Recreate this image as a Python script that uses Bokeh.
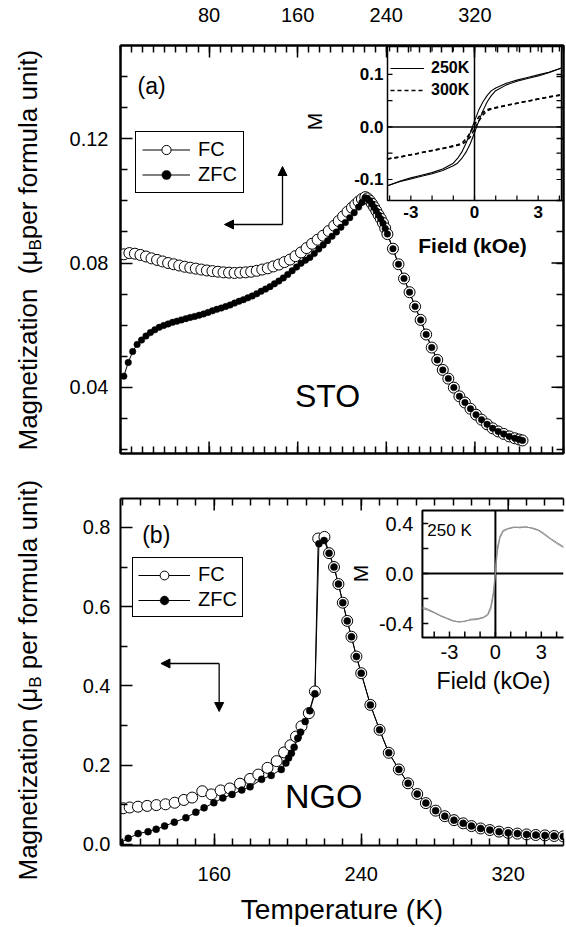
import math
from bokeh.plotting import figure
from bokeh.models import (Range1d, LinearAxis, FixedTicker, Legend, LegendItem,
                          Label, Arrow, NormalHead, PrintfTickFormatter)
from bokeh.layouts import column, row
from bokeh.embed import file_html
from bokeh.resources import INLINE
from bokeh.core.properties import value

FONT = "Liberation Sans"

# ---------------- panel (a): STO ----------------
sto_zfc_T = [3, 7, 11, 15, 19, 23, 27, 31, 35, 39, 43, 47, 51, 55, 59, 63, 67, 71, 75, 79,
             83, 87, 91, 95, 99, 103, 107, 111, 115, 119, 123, 127, 131, 135, 139, 143, 147,
             151, 155, 159, 163, 167, 171, 175, 179, 183, 187, 191, 195, 199, 203, 207, 211,
             215, 218, 221, 223, 225, 227, 229, 231, 233, 235, 237, 239, 241,
             246, 251, 256, 261, 266, 271, 276, 281, 286, 291, 296, 301, 306, 311, 316, 321,
             326, 331, 336, 341, 346, 351, 356, 360, 363]
sto_zfc_M = [0.0436, 0.0480, 0.0515, 0.0538, 0.0552, 0.0565, 0.0576, 0.0585, 0.0593, 0.0599,
             0.0604, 0.0609, 0.0613, 0.0617, 0.0621, 0.0625, 0.0628, 0.0632, 0.0636, 0.0641,
             0.0646, 0.0651, 0.0655, 0.0660, 0.0665, 0.0671, 0.0677, 0.0682, 0.0688, 0.0694,
             0.0701, 0.0709, 0.0716, 0.0724, 0.0733, 0.0742, 0.0752, 0.0763, 0.0775, 0.0787,
             0.0799, 0.0809, 0.0818, 0.0831, 0.0845, 0.0858, 0.0872, 0.0886, 0.0900, 0.0915,
             0.0930, 0.0946, 0.0962, 0.0980, 0.0995, 0.1010, 0.1007, 0.1000, 0.0990, 0.0979,
             0.0967, 0.0954, 0.0942, 0.0928, 0.0911, 0.0893,
             0.0846, 0.0796, 0.0750, 0.0706, 0.0660, 0.0617, 0.0570, 0.0528, 0.0488, 0.0456,
             0.0428, 0.0399, 0.0371, 0.0351, 0.0331, 0.0312, 0.0296, 0.0281, 0.0268, 0.0258,
             0.0250, 0.0242, 0.0236, 0.0232, 0.0229]
sto_fc_T = [3, 8, 13, 18, 23, 28, 33, 38, 43, 48, 53, 58, 63, 68, 73, 78, 83, 88, 93, 98, 103,
            108, 113, 118, 123, 128, 133, 138, 143, 148, 153, 158, 163, 168, 173, 178, 183, 188,
            193, 197, 201, 205, 209, 212, 215, 218, 221, 223, 225, 227, 229, 231, 233, 235, 237,
            239, 241, 246, 251, 256, 261, 266, 271, 276, 281, 286, 291, 296, 301, 306, 311, 316,
            321, 326, 331, 336, 341, 346, 351, 356, 360, 363]
sto_fc_M = [0.0828, 0.0832, 0.0830, 0.0826, 0.0821, 0.0815, 0.0810, 0.0805, 0.0800, 0.0796,
            0.0792, 0.0788, 0.0785, 0.0782, 0.0779, 0.0776, 0.0774, 0.0772, 0.0770, 0.0769,
            0.0768, 0.0769, 0.0770, 0.0772, 0.0775, 0.0779, 0.0783, 0.0789, 0.0795, 0.0803,
            0.0811, 0.0822, 0.0834, 0.0848, 0.0862, 0.0875, 0.0888, 0.0903, 0.0920, 0.0935,
            0.0950, 0.0965, 0.0978, 0.0988, 0.0998, 0.1006, 0.1012, 0.1008, 0.1001, 0.0991,
            0.0980, 0.0968, 0.0955, 0.0943, 0.0929, 0.0912, 0.0893,
            0.0846, 0.0796, 0.0750, 0.0706, 0.0660, 0.0617, 0.0570, 0.0528, 0.0488, 0.0456,
            0.0428, 0.0399, 0.0371, 0.0351, 0.0331, 0.0312, 0.0296, 0.0281, 0.0268, 0.0258,
            0.0250, 0.0242, 0.0236, 0.0232, 0.0229]

# inset (a): M-H loops
fa_field = [-4.1, -3.5, -3.0, -2.5, -2.0, -1.5, -1.0, -0.8, -0.6, -0.4, -0.2, 0.0,
            0.2, 0.4, 0.6, 0.8, 1.0, 1.5, 2.0, 2.5, 3.0, 3.5, 4.1]
m250_up = [-0.112, -0.104, -0.099, -0.094, -0.089, -0.083, -0.074, -0.069, -0.060, -0.048,
           -0.032, -0.011, 0.011, 0.031, 0.048, 0.060, 0.069, 0.080, 0.087, 0.092, 0.097,
           0.103, 0.112]
m250_down = [-0.112, -0.103, -0.097, -0.092, -0.087, -0.080, -0.069, -0.060, -0.048, -0.031,
             -0.011, 0.011, 0.032, 0.048, 0.060, 0.069, 0.074, 0.083, 0.089, 0.094, 0.099,
             0.104, 0.112]
m300_up = [-0.061, -0.057, -0.053, -0.049, -0.045, -0.041, -0.037, -0.035, -0.033, -0.028,
           -0.019, -0.004, 0.011, 0.023, 0.031, 0.034, 0.036, 0.041, 0.045, 0.049, 0.053,
           0.057, 0.061]
m300_down = [-0.061, -0.057, -0.053, -0.049, -0.045, -0.041, -0.036, -0.034, -0.031, -0.023,
             -0.011, 0.004, 0.019, 0.028, 0.033, 0.035, 0.037, 0.041, 0.045, 0.049, 0.053,
             0.057, 0.061]

# ---------------- panel (b): NGO ----------------
ngo_fc_T = [110.5, 114, 118.5, 123.5, 128.5, 133.5, 138.5, 143.5, 148, 153.5, 158.5, 163.5,
            168.5, 174, 179.5, 184, 189, 194, 198, 201.5, 204.5, 207.5, 211.5, 214.8, 216.6,
            220, 222.5, 225.2, 227.6, 230, 232.4, 234.7, 237.4, 240, 245, 250, 255, 260.5,
            265.5, 270.5, 275.2, 280.5, 285.5, 290.5, 295.5, 300, 305, 310, 315, 320, 325,
            330, 335, 340, 345, 350]
ngo_fc_M = [0.091, 0.093, 0.095, 0.097, 0.099, 0.101, 0.105, 0.112, 0.118, 0.134, 0.126, 0.136,
            0.141, 0.153, 0.165, 0.176, 0.193, 0.210, 0.232, 0.250, 0.272, 0.298, 0.331, 0.386,
            0.772, 0.776, 0.735, 0.700, 0.657, 0.610, 0.564, 0.524, 0.474, 0.432, 0.352, 0.289,
            0.231, 0.189, 0.154, 0.127, 0.104, 0.085, 0.071, 0.061, 0.053, 0.046, 0.040, 0.036,
            0.032, 0.029, 0.027, 0.025, 0.0235, 0.0225, 0.021, 0.020]
ngo_zfc_T = [108.8, 113.2, 118.6, 124, 128.4, 133, 138.3, 144.6, 150, 154.5, 159.8, 164.7,
             169.7, 175, 179.5, 185.8, 191, 196.5, 199, 200.5, 202, 203.5, 205.5, 207, 209.5,
             212, 214.8, 217, 219.8, 222.5, 225.2, 227.6, 230, 232.4, 234.7, 237.4, 240, 245,
             250, 255, 260.5, 265.5, 270.5, 275.2, 280.5, 285.5, 290.5, 295.5, 300, 305, 310,
             315, 320, 325, 330, 335, 340, 345, 350]
ngo_zfc_M = [0.004, 0.015, 0.027, 0.032, 0.038, 0.046, 0.056, 0.067, 0.081, 0.092, 0.105, 0.117,
             0.126, 0.137, 0.145, 0.164, 0.174, 0.189, 0.205, 0.218, 0.230, 0.245, 0.268, 0.283,
             0.310, 0.337, 0.380, 0.759, 0.767, 0.735, 0.700, 0.657, 0.610, 0.564, 0.524, 0.474,
             0.432, 0.352, 0.289, 0.231, 0.189, 0.154, 0.127, 0.104, 0.085, 0.071, 0.061, 0.053,
             0.046, 0.040, 0.036, 0.032, 0.029, 0.027, 0.025, 0.0235, 0.0225, 0.021, 0.020]

# inset (b): 250 K loop (two branches)
fb_field = [-4.77, -4.4, -4.0, -3.6, -3.2, -2.8, -2.4, -2.0, -1.6, -1.2, -0.8, -0.5, -0.3,
            -0.15, -0.05, 0.05, 0.15, 0.3, 0.5, 0.8, 1.2, 1.6, 2.0, 2.4, 2.8, 3.2, 3.6, 4.0, 4.5]
mb_up = [-0.270, -0.285, -0.310, -0.335, -0.355, -0.375, -0.390, -0.380, -0.372, -0.368,
         -0.355, -0.335, -0.285, -0.190, -0.080, 0.080, 0.190, 0.285, 0.335, 0.355, 0.368,
         0.372, 0.370, 0.365, 0.350, 0.320, 0.280, 0.250, 0.210]
mb_down = [-0.280, -0.295, -0.315, -0.340, -0.360, -0.380, -0.385, -0.385, -0.365, -0.362,
           -0.350, -0.325, -0.260, -0.160, -0.050, 0.110, 0.220, 0.300, 0.345, 0.360, 0.372,
           0.365, 0.375, 0.360, 0.345, 0.310, 0.275, 0.240, 0.205]

# ticks
a_top_major = [80, 160, 240, 320]
a_minor_T = list(range(0, 401, 10))
a_y_major = [0.04, 0.08, 0.12]
a_y_minor = [0.02, 0.03, 0.05, 0.06, 0.07, 0.09, 0.10, 0.11, 0.13, 0.14]
b_x_major = [160, 240, 320]
b_minor_T = list(range(110, 351, 10))
b_y_major = [0.0, 0.2, 0.4, 0.6, 0.8]
b_y_minor = [0.1, 0.3, 0.5, 0.7]
ia_xticks = [-4, -3, -2, -1, 0, 1, 2, 3, 4]
ia_xlabels = [-3, 0, 3]
ia_yticks = [-0.1, -0.05, 0.0, 0.05, 0.1]
ia_ylabels = [0.1, 0.0, -0.1]
ib_xticks = [-4, -3, -2, -1, 0, 1, 2, 3, 4]
ib_xlabels = [-3, 0, 3]
ib_yticks = [-0.4, -0.2, 0.0, 0.2, 0.4]
ib_ylabels = [0.4, 0.0, -0.4]

# ---------------- layout (page pixels; page origin = canvas origin) ----------------
PAGE_W, PAGE_H = 566, 927
LW = 45                       # width of the y-title strip
W = PAGE_W - LW
HA = 470
HB = PAGE_H - HA
TOP_A, TOP_B = 0, HA
A_FR = (120, 563, 45, 453)          # left, right, top, bottom
B_FR = (117, 566, 498, 845)
A_X, A_Y = (0, 400), (0.0187, 0.150)
B_X, B_Y = (109, 350.1), (-0.003, 0.873)
IA_F, IA_M = (-4.1, 4.1), (-0.14, 0.153)
IA_BOX = (387, 561, 46, 200)
IB_F, IB_M = (-4.77, 4.45), (-0.512, 0.504)
IB_BOX = (423, 566, 510, 637)
MAJ, MNR = 12, 7

AW = {'M': 833, 'a': 556, 'g': 556, 'n': 556, 'e': 556, 't': 278, 'i': 222, 'z': 500,
      'o': 556, ' ': 278, '(': 333, ')': 333, 'μ': 576, 'B': 667, 'p': 556, 'r': 333,
      'f': 278, 'm': 833, 'u': 556, 'l': 222}


def tw(s, fs):
    return sum(AW.get(c, 556) for c in s) / 1000.0 * fs


def p2d(px, py, fr, xr, yr):
    L, R, T, B = fr
    return (xr[0] + (px - L) / (R - L) * (xr[1] - xr[0]),
            yr[0] + (B - py) / (B - T) * (yr[1] - yr[0]))


def make_fig(h, fr, xr, yr, top):
    L, R, T, B = fr
    p = figure(width=W, height=h, x_range=Range1d(*xr), y_range=Range1d(*yr),
               x_axis_location=None, y_axis_location=None,
               output_backend="svg", toolbar_location=None,
               min_border_left=L - LW, min_border_right=PAGE_W - R,
               min_border_top=T - top, min_border_bottom=top + h - B)
    p.grid.visible = False
    p.background_fill_color = "white"
    p.border_fill_color = "white"
    return p


def add_axis(p, side, ticks, minor, fmt, fs="20px", standoff=10):
    ax = LinearAxis(ticker=FixedTicker(ticks=ticks, minor_ticks=minor))
    if fmt:
        ax.formatter = PrintfTickFormatter(format=fmt)
    ax.axis_line_width = 2
    ax.axis_line_color = "black"
    ax.major_tick_in, ax.major_tick_out = MAJ, 0
    ax.minor_tick_in, ax.minor_tick_out = MNR, 0
    ax.major_tick_line_width = 1.5
    ax.minor_tick_line_width = 1.5
    ax.major_tick_line_color = "black"
    ax.minor_tick_line_color = "black"
    ax.major_label_text_font = FONT
    ax.major_label_text_color = "black"
    ax.major_label_text_font_size = fs
    ax.major_label_standoff = standoff
    ax.axis_label_text_color = "black"
    p.add_layout(ax, side)
    return ax


def bare_axis(p, side, minor):
    # axis with only short ticks; long ticks at labelled values are drawn separately
    ax = LinearAxis(ticker=FixedTicker(ticks=[], minor_ticks=minor))
    ax.axis_line_width = 2
    ax.axis_line_color = "black"
    ax.major_tick_in, ax.major_tick_out = 0, 0
    ax.minor_tick_in, ax.minor_tick_out = MNR, 0
    ax.minor_tick_line_width = 1.5
    ax.minor_tick_line_color = "black"
    ax.major_label_standoff = 0
    p.add_layout(ax, side)
    return ax


def long_ticks(p, fr, xr, yr, side, vals):
    L, R, T, B = fr
    ux = (xr[1] - xr[0]) / (R - L)
    uy = (yr[1] - yr[0]) / (B - T)
    n = len(vals)
    if side == "below":
        p.segment(x0=vals, y0=[yr[0]] * n, x1=vals, y1=[yr[0] + MAJ * uy] * n,
                  line_color="black", line_width=1.5)
    elif side == "above":
        p.segment(x0=vals, y0=[yr[1]] * n, x1=vals, y1=[yr[1] - MAJ * uy] * n,
                  line_color="black", line_width=1.5)
    elif side == "right":
        p.segment(x0=[xr[1]] * n, y0=vals, x1=[xr[1] - MAJ * ux] * n, y1=vals,
                  line_color="black", line_width=1.5)


def inset_ranges(p, fr, xr, yr, box):
    L, R, T, B = fr
    bl, br, bt, bb = box
    ux = (xr[1] - xr[0]) / (br - bl)
    uy = (yr[1] - yr[0]) / (bb - bt)
    p.extra_x_ranges = {"ins": Range1d(xr[0] - (bl - L) * ux, xr[1] + (R - br) * ux)}
    p.extra_y_ranges = {"ins": Range1d(yr[0] - (B - bb) * uy, yr[1] + (bt - T) * uy)}
    return ux, uy


def arrow(p, conv, start, end):
    x0, y0 = conv(*start)
    x1, y1 = conv(*end)
    p.add_layout(Arrow(end=NormalHead(size=9, fill_color="black", line_color="black", line_width=1),
                       x_start=x0, y_start=y0, x_end=x1, y_end=y1,
                       line_color="black", line_width=1.3))


def label(p, conv, px, py, text, fs, align="left", bold=False, angle=0):
    x, y = conv(px, py)
    p.add_layout(Label(x=x, y=y, text=text, text_font=FONT, text_font_size=f"{fs}px",
                       text_align=align, text_baseline="middle", angle=angle,
                       angle_units="deg", text_color="black",
                       text_font_style="bold" if bold else "normal"))


def legend(items, loc, glyph_w, glyph_h, padding, fs, bold=False, boxed=True):
    return Legend(items=items, location=loc, margin=0, padding=padding, spacing=2,
                  glyph_width=glyph_w, glyph_height=glyph_h, label_standoff=8 if boxed else 7,
                  label_text_font=FONT, label_text_font_size=fs, label_text_color="black",
                  label_text_font_style="bold" if bold else "normal",
                  border_line_color="black", border_line_width=1,
                  border_line_alpha=1 if boxed else 0,
                  background_fill_color="white", background_fill_alpha=1 if boxed else 0)


def ca(px, py):
    return p2d(px, py, A_FR, A_X, A_Y)


def cb(px, py):
    return p2d(px, py, B_FR, B_X, B_Y)


# =============== y-title strip ===============
lf = figure(width=LW, height=PAGE_H, x_range=Range1d(0, LW), y_range=Range1d(0, PAGE_H),
            x_axis_location=None, y_axis_location=None, output_backend="svg",
            toolbar_location=None, min_border_left=0, min_border_right=0,
            min_border_top=0, min_border_bottom=0)
lf.grid.visible = False
lf.outline_line_color = None

FS_T, FS_S = 26, 17


def ytitle(px, py0, parts):
    # parts: (text, is_subscript, trailing gap in spaces); drawn rotated, reading upward
    y = py0
    for s, sub, gap in parts:
        f = FS_S if sub else FS_T
        dx = 8 if sub else 0
        lf.text(x=[px + dx], y=[PAGE_H - y], text=[s], angle=math.pi / 2,
                text_font=value(FONT), text_font_size=f"{f}px",
                text_align="left", text_baseline="middle", text_color="black")
        y -= tw(s, f) + gap * tw(" ", FS_T)


ytitle(27, 450, [("Magnetization", False, 2), ("(μ", False, 0), ("B", True, 0),
                 ("per formula unit)", False, 0)])
ytitle(27, 880, [("Magnetization", False, 1), ("(μ", False, 0), ("B", True, 1),
                 ("per formula unit)", False, 0)])

# =============== figure A ===============
pa = make_fig(HA, A_FR, A_X, A_Y, TOP_A)
pa.outline_line_color = "black"
pa.outline_line_width = 2
add_axis(pa, "above", a_top_major, a_minor_T, "%d", standoff=24)
bare_axis(pa, "below", a_minor_T)
add_axis(pa, "left", a_y_major, a_y_minor, "%.2f", standoff=12)
bare_axis(pa, "right", a_y_minor + a_y_major)
long_ticks(pa, A_FR, A_X, A_Y, "below", a_top_major)
long_ticks(pa, A_FR, A_X, A_Y, "right", a_y_major)

la_z = pa.line(sto_zfc_T, sto_zfc_M, line_color="black", line_width=1)
la_f = pa.line(sto_fc_T, sto_fc_M, line_color="black", line_width=1)
sa_f = pa.scatter(sto_fc_T, sto_fc_M, marker="circle", size=11, fill_color="white",
                  line_color="black", line_width=1)
sa_z = pa.scatter(sto_zfc_T, sto_zfc_M, marker="circle", size=6.5, fill_color="black",
                  line_color="black", line_width=0.5)

pa.add_layout(legend([LegendItem(label="FC", renderers=[la_f, sa_f]),
                      LegendItem(label="ZFC", renderers=[la_z, sa_z])],
                     (15, 260), 48, 23, 6, "20px"), "center")

# inset (a)
uxa, uya = inset_ranges(pa, A_FR, IA_F, IA_M, IA_BOX)
kw = dict(x_range_name="ins", y_range_name="ins")
pa.quad(left=[IA_F[0]], right=[IA_F[1]], bottom=[IA_M[0]], top=[IA_M[1]],
        fill_color="white", line_color="black", line_width=1.5, **kw)
pa.segment(x0=[0, IA_F[0]], y0=[IA_M[0], 0], x1=[0, IA_F[1]], y1=[IA_M[1], 0],
           line_color="black", line_width=1.5, **kw)
tl = 5
pa.segment(x0=ia_xticks, y0=[IA_M[0]] * len(ia_xticks), x1=ia_xticks,
           y1=[IA_M[0] + tl * uya] * len(ia_xticks), line_color="black", line_width=1.2, **kw)
pa.segment(x0=ia_xticks, y0=[IA_M[1]] * len(ia_xticks), x1=ia_xticks,
           y1=[IA_M[1] - tl * uya] * len(ia_xticks), line_color="black", line_width=1.2, **kw)
pa.segment(x0=[IA_F[0]] * len(ia_yticks), y0=ia_yticks, x1=[IA_F[0] + tl * uxa] * len(ia_yticks),
           y1=ia_yticks, line_color="black", line_width=1.2, **kw)
pa.segment(x0=[IA_F[1]] * len(ia_yticks), y0=ia_yticks, x1=[IA_F[1] - tl * uxa] * len(ia_yticks),
           y1=ia_yticks, line_color="black", line_width=1.2, **kw)
r250 = pa.line(fa_field, m250_up, line_color="black", line_width=1.1, **kw)
pa.line(fa_field, m250_down, line_color="black", line_width=1.1, **kw)
r300 = pa.line(fa_field, m300_up, line_color="black", line_width=1.6, line_dash="4 3", **kw)
pa.line(fa_field, m300_down, line_color="black", line_width=1.6, line_dash="4 3", **kw)
pa.text(x=ia_xlabels, y=[IA_M[0]] * 3, text=[str(v) for v in ia_xlabels], y_offset=5,
        text_align="center", text_baseline="top", text_font=value(FONT),
        text_font_size="17px", text_font_style="bold", **kw)
pa.text(x=[IA_F[0]] * 3, y=ia_ylabels, text=["%.1f" % v for v in ia_ylabels], x_offset=-4,
        text_align="right", text_baseline="middle", text_font=value(FONT),
        text_font_size="17px", text_font_style="bold", **kw)
pa.add_layout(legend([LegendItem(label="250K", renderers=[r250]),
                      LegendItem(label="300K", renderers=[r300])],
                     (270, 353), 34, 20, 0, "16px", bold=True, boxed=False), "center")
label(pa, ca, 314, 121, "M", 21, align="center", angle=90)
label(pa, ca, 472, 245, "Field (kOe)", 21, align="center", bold=True)

label(pa, ca, 137, 85, "(a)", 23)
label(pa, ca, 327, 395, "STO", 32, align="center")
arrow(pa, ca, (282, 224), (282, 166))
arrow(pa, ca, (282, 224), (224, 224))

# =============== figure B ===============
pb = make_fig(HB, B_FR, B_X, B_Y, TOP_B)
pb.outline_line_color = None
bare_axis(pb, "above", b_minor_T)
long_ticks(pb, B_FR, B_X, B_Y, "above", b_x_major)
axb = add_axis(pb, "below", b_x_major, b_minor_T, "%d", standoff=21)
axb.axis_label = "Temperature (K)"
axb.axis_label_text_font = FONT
axb.axis_label_text_font_size = "28px"
axb.axis_label_text_font_style = "normal"
axb.axis_label_standoff = 10
add_axis(pb, "left", b_y_major, b_y_minor, "%.1f", standoff=10)

lb_z = pb.line(ngo_zfc_T, ngo_zfc_M, line_color="black", line_width=1)
lb_f = pb.line(ngo_fc_T, ngo_fc_M, line_color="black", line_width=1)
sb_f = pb.scatter(ngo_fc_T, ngo_fc_M, marker="circle", size=11, fill_color="white",
                  line_color="black", line_width=1)
sb_z = pb.scatter(ngo_zfc_T, ngo_zfc_M, marker="circle", size=7, fill_color="black",
                  line_color="black", line_width=0.5)
pb.add_layout(legend([LegendItem(label="FC", renderers=[lb_f, sb_f]),
                      LegendItem(label="ZFC", renderers=[lb_z, sb_z])],
                     (12, 228), 52, 22, 5, "20px"), "center")

uxb, uyb = inset_ranges(pb, B_FR, IB_F, IB_M, IB_BOX)
pb.quad(left=[IB_F[0]], right=[IB_F[1] + 1], bottom=[IB_M[0]], top=[IB_M[1]],
        fill_color="white", line_color="black", line_width=2, **kw)
pb.segment(x0=[0, IB_F[0]], y0=[IB_M[0], 0], x1=[0, IB_F[1]], y1=[IB_M[1], 0],
           line_color="black", line_width=2, **kw)
pb.segment(x0=ib_xticks, y0=[IB_M[0]] * len(ib_xticks), x1=ib_xticks,
           y1=[IB_M[0] + 6 * uyb] * len(ib_xticks), line_color="black", line_width=1.5, **kw)
pb.segment(x0=[IB_F[0]] * len(ib_yticks), y0=ib_yticks, x1=[IB_F[0] + 6 * uxb] * len(ib_yticks),
           y1=ib_yticks, line_color="black", line_width=1.5, **kw)
pb.line(fb_field, mb_up, line_color="#8c8c8c", line_width=1, **kw)
pb.line(fb_field, mb_down, line_color="#8c8c8c", line_width=1, **kw)
pb.text(x=ib_xlabels, y=[IB_M[0]] * 3, text=[str(v) for v in ib_xlabels], y_offset=7,
        text_align="center", text_baseline="top", text_font=value(FONT),
        text_font_size="20px", **kw)
pb.text(x=[IB_F[0]] * 3, y=ib_ylabels, text=["%.1f" % v for v in ib_ylabels], x_offset=-9,
        text_align="right", text_baseline="middle", text_font=value(FONT),
        text_font_size="20px", **kw)
label(pb, cb, 360, 573, "M", 21, align="center", angle=90)
label(pb, cb, 495, 680, "Field (kOe)", 23, align="center")
label(pb, cb, 428, 530, "250 K", 17)

label(pb, cb, 139, 534, "(b)", 23)
label(pb, cb, 323, 795, "NGO", 34, align="center")
arrow(pb, cb, (217, 663), (158, 663))
arrow(pb, cb, (217, 663), (217, 711))

layout = row(lf, column(pa, pb, spacing=0), spacing=0)
open("out.html", "w").write(file_html(layout, INLINE))
